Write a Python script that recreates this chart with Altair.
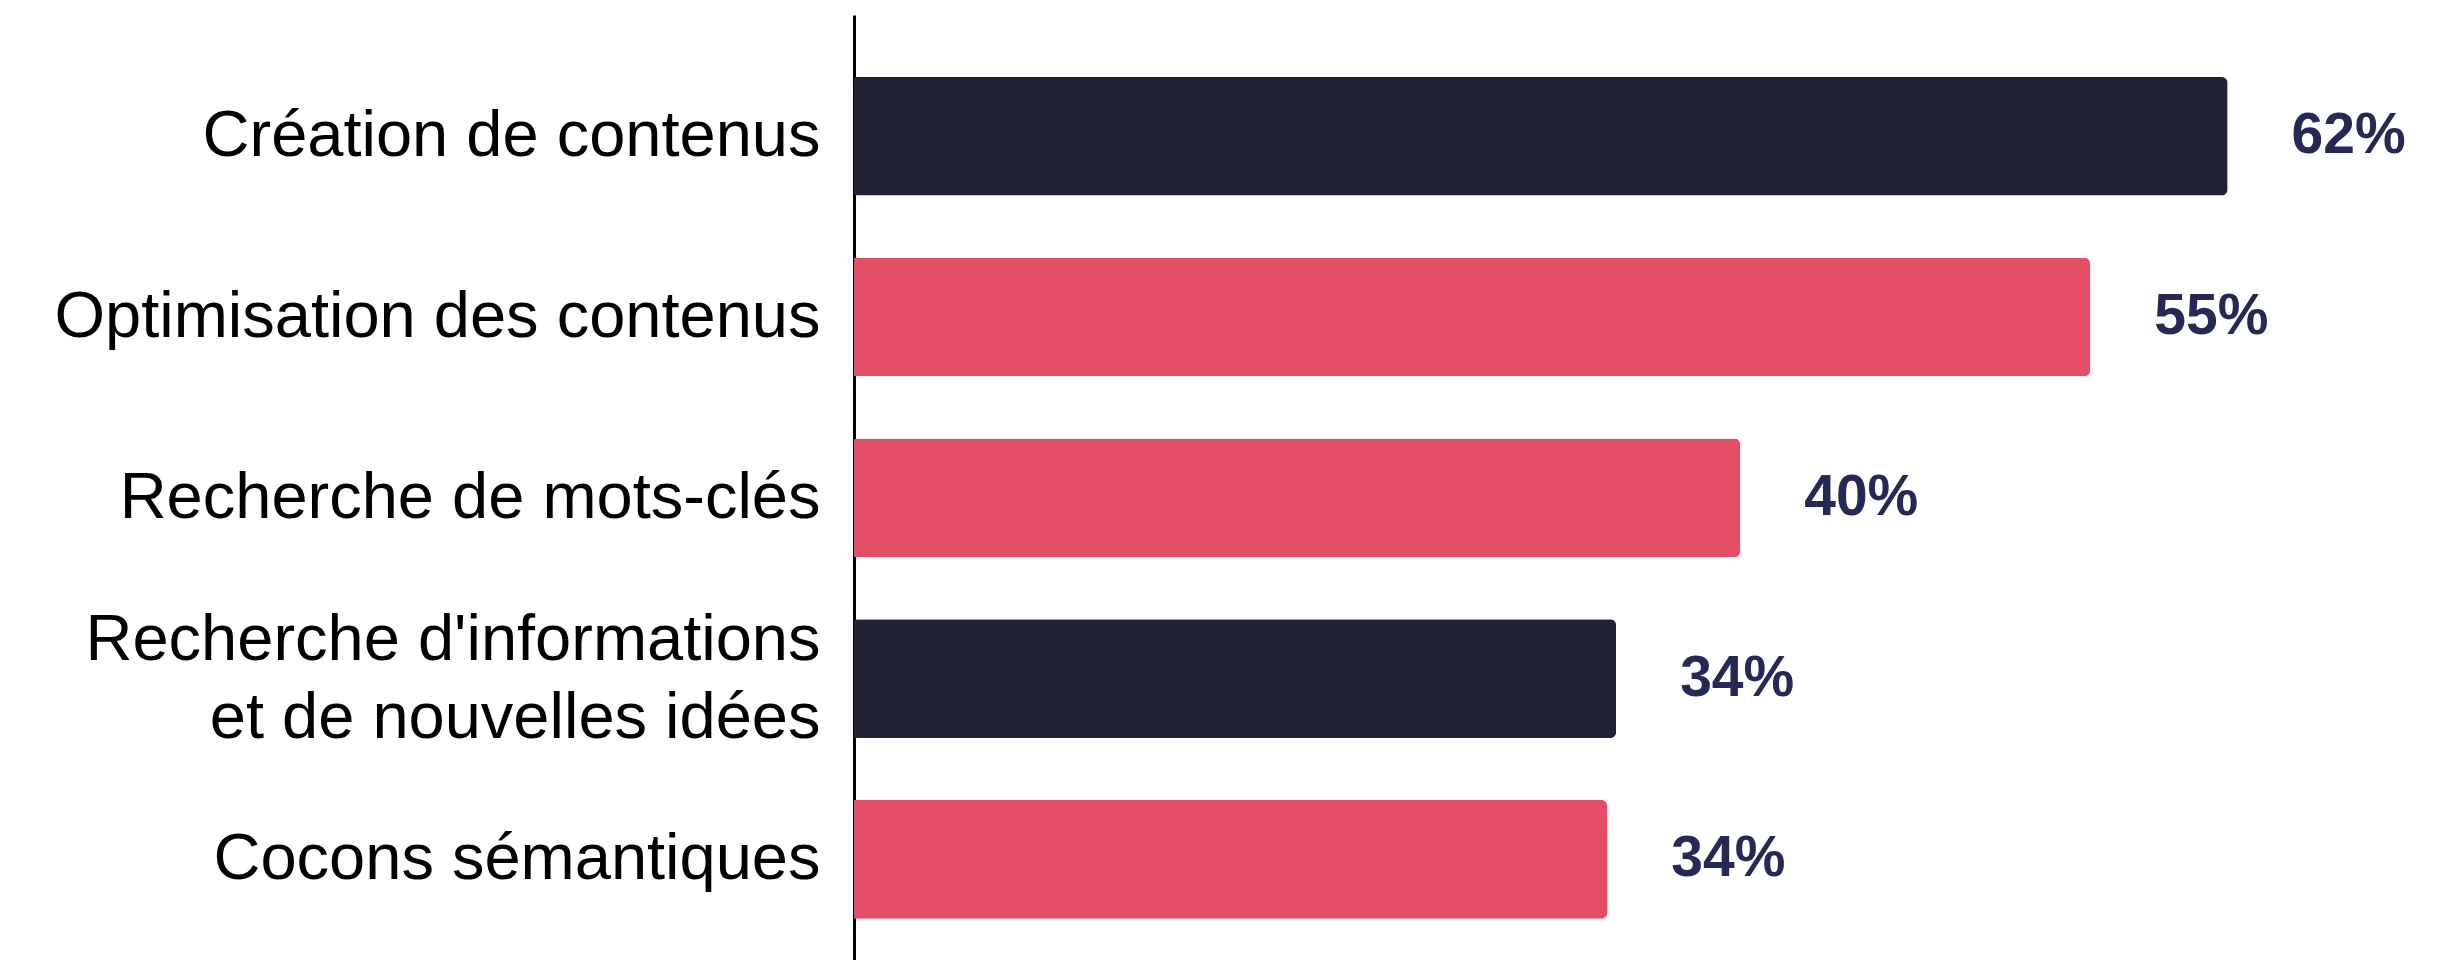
import altair as alt
import pandas as pd

categories = [
    "Création de contenus",
    "Optimisation des contenus",
    "Recherche de mots-clés",
    "Recherche d'informations\net de nouvelles idées",
    "Cocons sémantiques",
]
values = [62, 55.8, 40, 34.4, 34]
labels = ["62%", "55%", "40%", "34%", "34%"]
colors = ["#222236", "#e34e64", "#e34e64", "#222236", "#e34e64"]

df = pd.DataFrame({"cat": categories, "val": values, "lab": labels, "col": colors})

y = alt.Y(
    "cat:N",
    sort=categories,
    scale=alt.Scale(paddingInner=0.344, paddingOuter=0.286, align=0.6),
    axis=alt.Axis(
        title=None,
        ticks=False,
        tickSize=0,
        labelPadding=34,
        labelFont="Liberation Sans",
        labelFontSize=65,
        labelColor="#000000",
        labelLineHeight=78,
        labelLimit=1000,
        labelExpr="split(datum.label, '\\n')",
        labelOffset={"condition": {"test": "indexof(datum.value, '\\n') >= 0", "value": -39}, "value": 0},
        domainColor="#000000",
        domainWidth=3,
        grid=False,
    ),
)
x = alt.X("val:Q", scale=alt.Scale(domain=[0, 71], nice=False, zero=True), axis=None)

bars = alt.Chart(df).mark_bar(cornerRadiusEnd=6).encode(
    x=x, y=y, color=alt.Color("col:N", scale=None)
)
text = alt.Chart(df).mark_text(
    align="left", baseline="middle", dx=64, font="Liberation Sans",
    fontSize=57, fontWeight="bold", color="#262956"
).encode(x=x, y=y, text="lab:N")

chart = (
    alt.layer(bars, text)
    .properties(
        width=1573,
        height=945,
        autosize=alt.AutoSizeParams(type="none"),
        padding={"left": 846, "top": 7, "right": 0, "bottom": 0},
        view=alt.ViewBackground(stroke="#ffffff", strokeWidth=0, fill="#ffffff"),
    )
    .configure_view(stroke="#ffffff", strokeWidth=0)
    .configure_axis(grid=False)
    .configure(background="#ffffff")
)

chart.save("out.html", embed_options={"renderer": "svg", "actions": False})
